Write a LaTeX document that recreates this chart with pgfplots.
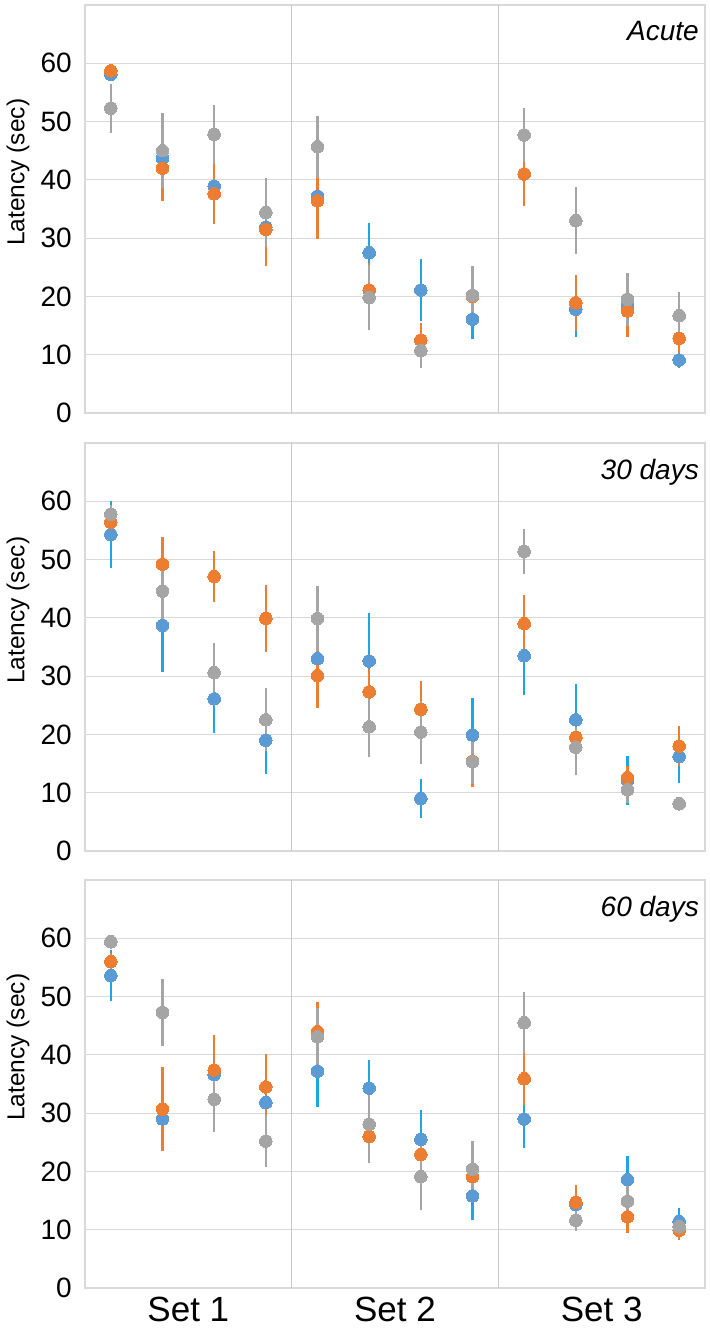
\documentclass[border=0pt]{standalone}
\usepackage{fontspec}
\setmainfont{Liberation Sans}
\usepackage{pgfplots}
\usepackage{pgfplotstable}
\pgfplotsset{compat=1.18}
\definecolor{cblue}{HTML}{5B9BD5}
\definecolor{cblueerr}{HTML}{1CA6E3}
\definecolor{corange}{HTML}{ED7D31}
\definecolor{cgray}{HTML}{A5A5A5}
\definecolor{cgrid}{HTML}{D9D9D9}
\definecolor{cdiv}{HTML}{C8C8C8}

\pgfplotstableread{
x    b    be   o    oe   g    ge
0.5  58.1 1.0  58.7 1.0  52.3 4.2
1.5  43.7 3.0  42.0 5.7  45.0 6.4
2.5  38.9 3.0  37.6 5.2  47.8 5.0
3.5  31.9 3.0  31.5 6.2  34.4 5.9
4.5  37.2 3.0  36.4 6.5  45.7 5.3
5.5  27.5 5.1  21.1 4.7  19.8 5.6
6.5  21.1 5.3  12.5 3.0  10.7 3.0
7.5  16.1 3.4  20.0 3.0  20.2 5.0
8.5  41.0 3.0  41.0 5.5  47.7 4.7
9.5  17.8 4.8  18.9 4.8  33.0 5.7
10.5 18.4 3.0  17.5 4.4  19.5 4.5
11.5 9.1  1.3  12.8 3.0  16.7 4.1
}\acute

\pgfplotstableread{
x    b    be   o    oe   g    ge
0.5  54.3 5.7  56.4 1.5  57.8 1.5
1.5  38.7 8.0  49.2 4.7  44.6 5.0
2.5  26.1 5.8  47.1 4.4  30.6 5.1
3.5  19.0 5.8  39.9 5.7  22.5 5.4
4.5  33.0 3.0  30.1 5.6  39.9 5.6
5.5  32.6 8.3  27.3 4.0  21.3 5.2
6.5  9.0  3.4  24.3 4.8  20.4 5.4
7.5  19.9 6.4  15.4 4.5  15.3 3.8
8.5  33.5 6.8  39.0 5.0  51.4 3.8
9.5  22.5 6.2  19.5 4.0  17.8 4.8
10.5 12.1 4.2  12.6 2.0  10.5 2.3
11.5 16.2 4.6  18.0 3.5  8.1  1.0
}\thirty

\pgfplotstableread{
x    b    be   o    oe   g    ge
0.5  53.6 4.4  56.0 1.5  59.4 1.0
1.5  29.0 3.0  30.7 7.2  47.3 5.7
2.5  36.6 3.0  37.4 6.0  32.4 5.7
3.5  31.8 3.0  34.5 5.6  25.2 4.5
4.5  37.2 6.1  44.0 5.1  43.1 5.0
5.5  34.3 4.8  26.0 3.0  28.1 6.6
6.5  25.5 5.0  22.9 3.0  19.1 5.8
7.5  15.8 4.1  19.1 3.0  20.4 4.8
8.5  29.0 4.9  35.9 4.5  45.5 5.2
9.5  14.3 2.0  14.7 3.0  11.6 1.8
10.5 18.6 4.0  12.2 2.8  14.9 3.0
11.5 11.4 2.3  9.9  1.6  10.5 1.0
}\sixty

\tikzset{ttl/.style={anchor=north east, inner sep=0pt, font=\fontsize{28}{28}\selectfont\itshape, xshift=-6pt, yshift=-16pt}}

\pgfplotsset{
  panel/.style={
    width=620pt, height=408pt, scale only axis,
    anchor=south west,
    xmin=0, xmax=12, ymin=0, ymax=70,
    ytick={0,10,...,60},
    xtick={2,6,10}, xticklabels={},
    major tick length=0pt,
    ymajorgrids,
    major grid style={draw=cgrid, line width=1.2pt},
    axis line style={draw=cgrid, line width=1.3pt},
    extra x ticks={4,8}, extra x tick labels={},
    extra x tick style={grid=major, major grid style={draw=cdiv, line width=1.3pt}},
    /pgf/number format/assume math mode=true,
    yticklabel style={font=\fontsize{28}{28}\selectfont, text=black, inner sep=0pt, xshift=-13pt},
    ylabel={Latency (sec)},
    every axis y label/.style={at={(rel axis cs:0,0.59)}, xshift=-67pt, rotate=90, anchor=center, inner sep=0pt, font=\fontsize{24.5}{24.5}\selectfont},
    error bars/y dir=both, error bars/y explicit,
    error bars/error mark=none,
    clip=false,
  },
  sb/.style={only marks, mark=*, mark size=6.3pt, draw=none, fill=cblue, mark options={draw=cblue, fill=cblue, line width=0pt},
    error bars/error bar style={draw=cblueerr, line width=2.3pt}},
  so/.style={only marks, mark=*, mark size=6.3pt, draw=none, fill=corange, mark options={draw=corange, fill=corange, line width=0pt},
    error bars/error bar style={draw=corange, line width=2.3pt}},
  sg/.style={only marks, mark=*, mark size=6.3pt, draw=none, fill=cgray, mark options={draw=cgray, fill=cgray, line width=0pt},
    error bars/error bar style={draw=cgray, line width=2.3pt}},
}

\begin{document}
\begin{tikzpicture}
\useasboundingbox (0,0) rectangle (709pt,1329pt);

\begin{axis}[panel, at={(85pt,916pt)}]
\addplot[sb] table[x=x, y=b, y error=be] {\acute};
\addplot[so] table[x=x, y=o, y error=oe] {\acute};
\addplot[sg] table[x=x, y=g, y error=ge] {\acute};
\node[ttl] at (rel axis cs:1,1) {Acute};
\end{axis}

\begin{axis}[panel, at={(85pt,478pt)}]
\addplot[sb] table[x=x, y=b, y error=be] {\thirty};
\addplot[so] table[x=x, y=o, y error=oe] {\thirty};
\addplot[sg] table[x=x, y=g, y error=ge] {\thirty};
\node[ttl] at (rel axis cs:1,1) {30 days};
\end{axis}

\begin{axis}[panel, at={(85pt,41pt)},
  xticklabels={Set 1, Set 2, Set 3},
  xticklabel style={font=\fontsize{35}{35}\selectfont, text=black, inner sep=0pt, yshift=-9pt}]
\addplot[sb] table[x=x, y=b, y error=be] {\sixty};
\addplot[so] table[x=x, y=o, y error=oe] {\sixty};
\addplot[sg] table[x=x, y=g, y error=ge] {\sixty};
\node[ttl] at (rel axis cs:1,1) {60 days};
\end{axis}
\end{tikzpicture}
\end{document}
